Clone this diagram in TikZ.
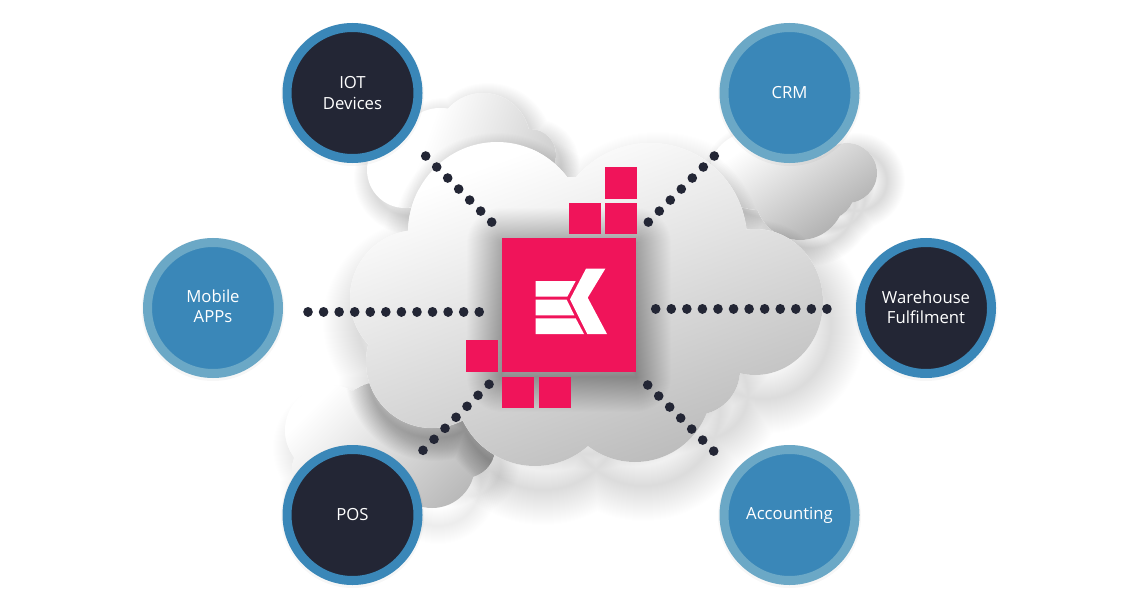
\documentclass[tikz,border=0pt]{standalone}
\usepackage{fontspec}
\setmainfont{Open Sans}
\definecolor{navy}{HTML}{232635}
\definecolor{blue1}{HTML}{3A87B8}
\definecolor{blue2}{HTML}{6BA8C6}
\definecolor{crimson}{HTML}{F0145A}
\def\mainlobes{
 (497,233) ellipse [x radius=89,y radius=91]
 (650,240) ellipse [x radius=97,y radius=97]
 (570,215) ellipse [x radius=38,y radius=38]
 (755,302) ellipse [x radius=68,y radius=73]
 (695,370) ellipse [x radius=45,y radius=45]
 (635,385) ellipse [x radius=77,y radius=77]
 (535,386) ellipse [x radius=80,y radius=80]
 (432,362) ellipse [x radius=66,y radius=66]
 (418,298) ellipse [x radius=68,y radius=68]
 (570,310) ellipse [x radius=170,y radius=120]}
\def\backa{
 (483,140) ellipse [x radius=47,y radius=47]
 (530,155) ellipse [x radius=26,y radius=26]
 (405,170) ellipse [x radius=38,y radius=38]
 (440,150) ellipse [x radius=42,y radius=42]
 (490,180) ellipse [x radius=60,y radius=40]}
\def\backb{
 (847,173) ellipse [x radius=30,y radius=30]
 (825,190) ellipse [x radius=30,y radius=30]
 (800,195) ellipse [x radius=45,y radius=45]
 (760,170) ellipse [x radius=50,y radius=40]}
\def\backc{
 (330,430) ellipse [x radius=45,y radius=45]
 (340,470) ellipse [x radius=48,y radius=40]
 (432,465) ellipse [x radius=43,y radius=43]
 (465,448) ellipse [x radius=30,y radius=30]
 (390,430) ellipse [x radius=60,y radius=50]}
\tikzset{
 x=1pt,y=-1pt,
 hub/.style={circle,inner sep=0pt,minimum size=131pt,line width=9pt,align=center,text=white,font=\fontsize{16.7}{20}\selectfont},
 darkhub/.style={hub,fill=navy,draw=blue1},
 bluehub/.style={hub,fill=blue1,draw=blue2},
 dotline/.style={navy,line width=9.6pt,line cap=round,dash pattern=on 0.01pt off 15.556pt},
 tile/.style={fill=crimson,draw=none},
 hubshade/.style={fill=black,fill opacity=.03,draw=none}
}
\begin{document}
\begin{tikzpicture}
\useasboundingbox (0,0) rectangle (1140,607);
\fill[white] (0,0) rectangle (1140,607);
% soft shadows on the page
\foreach \w in {2,4,...,70}{
 \path[draw=black,draw opacity=.0045,line width=\w pt,shift={(8pt,-24pt)}] \mainlobes;
}
\foreach \w in {2,4,...,36}{
 \path[draw=black,draw opacity=.008,line width=\w pt,shift={(5pt,-8pt)}] \backa;
 \path[draw=black,draw opacity=.008,line width=\w pt,shift={(10pt,-8pt)}] \backb;
 \path[draw=black,draw opacity=.0045,line width=\w pt,shift={(6pt,-18pt)}] \backc;
}
% back clouds
\fill[white] \backa;
\begin{scope}
 \clip \backa;
 \begin{scope}[transform canvas={rotate around={70:(470,150)}}]
  \shade[top color=white,bottom color=black!22] (170,105) rectangle (770,255);
 \end{scope}
 \foreach \w in {2,4,...,30}{\path[draw=black,draw opacity=.008,line width=\w pt,shift={(0pt,-6pt)}] \mainlobes;}
\end{scope}
\fill[white] \backb;
\begin{scope}
 \clip \backb;
 \begin{scope}[transform canvas={rotate around={35:(800,190)}}]
  \shade[top color=white,bottom color=black!35] (500,123) rectangle (1100,258);
 \end{scope}
 \foreach \w in {2,4,...,30}{\path[draw=black,draw opacity=.008,line width=\w pt,shift={(0pt,-6pt)}] \mainlobes;}
\end{scope}
\fill[white] \backc;
\begin{scope}
 \clip \backc;
 \begin{scope}[transform canvas={rotate around={45:(380,450)}}]
  \shade[top color=white,bottom color=black!28] (80,372) rectangle (680,543);
 \end{scope}
 \foreach \w in {2,4,...,46}{\path[draw=black,draw opacity=.011,line width=\w pt,shift={(2pt,-10pt)}] \mainlobes;}
\end{scope}
% main cloud
\fill[white] \mainlobes;
\begin{scope}
 \clip \mainlobes;
 \begin{scope}[transform canvas={rotate around={20:(580,300)}}]
  \shade[top color=white,bottom color=black!31] (180,141) rectangle (980,540);
 \end{scope}
 % shadow of the square
 \foreach \w in {2,4,...,70}{
  \path[draw=black,draw opacity=.007,line width=\w pt,line join=round] (502,243) rectangle (636,377);
 }
\end{scope}
% connectors
\coordinate (tlA) at (425.7,156);
\coordinate (tlB) at (491.8,222.2);
\coordinate (trA) at (714.3,156);
\coordinate (trB) at (648.2,222.2);
\coordinate (lA) at (308,311.7);
\coordinate (lB) at (479.3,311.7);
\coordinate (rA) at (655.7,308.7);
\coordinate (rB) at (827,308.7);
\coordinate (blA) at (423,450.3);
\coordinate (blB) at (489.1,384.2);
\coordinate (brA) at (647.7,385);
\coordinate (brB) at (713.8,451.2);
\draw[dotline] (tlA) -- (tlB);
\draw[dotline] (trA) -- (trB);
\draw[dotline] (lA) -- (lB);
\draw[dotline] (rA) -- (rB);
\draw[dotline] (blA) -- (blB);
\draw[dotline] (brA) -- (brB);
% red squares
\fill[tile] (502,238) rectangle (636,372);
\fill[tile] (604.7,166.7) rectangle (636.5,198.5);
\fill[tile] (568.7,202.5) rectangle (600.7,234);
\fill[tile] (604.7,202.5) rectangle (636.5,234);
\fill[tile] (465.7,340.3) rectangle (497.7,372);
\fill[tile] (502,376.5) rectangle (534,408);
\fill[tile] (538.5,376.5) rectangle (570.5,408);
% logo
\fill[white] (535.7,281) -- (575.7,281) -- (567.3,296.7) -- (535.7,296.7) -- cycle;
\fill[white] (535.7,299.7) -- (566.7,299.7) -- (574.3,315.3) -- (535.7,315.3) -- cycle;
\fill[white] (535.7,318.3) -- (575.7,318.3) -- (584,334) -- (535.7,334) -- cycle;
\fill[white] (586,268.7) -- (605.3,268.7) -- (587.7,297.7) -- (607,334) -- (587.3,334) -- (570,299.3) -- cycle;
% hub shadows
\foreach \c in {(352.5,93),(789.5,93),(213,308),(926,308),(352.5,515),(789.5,515)}{
 \fill[hubshade] \c ++(0pt,-1.5pt) circle[radius=71.5pt];
}
% hubs
\node[darkhub] (iot) at (352.5,93) {\raisebox{1pt}{IOT}\\Devices};
\node[bluehub] (crm) at (789.5,93) {CRM};
\node[bluehub] (mobile) at (213,308) {\raisebox{3pt}{Mobile}\\\raisebox{3pt}{APPs}};
\node[darkhub] (wh) at (926,308) {\raisebox{1pt}{Warehouse}\\\raisebox{1pt}{Fulfilment}};
\node[darkhub] (pos) at (352.5,515) {POS};
\node[bluehub] (acc) at (789.5,515) {Accounting};
\end{tikzpicture}
\end{document}
